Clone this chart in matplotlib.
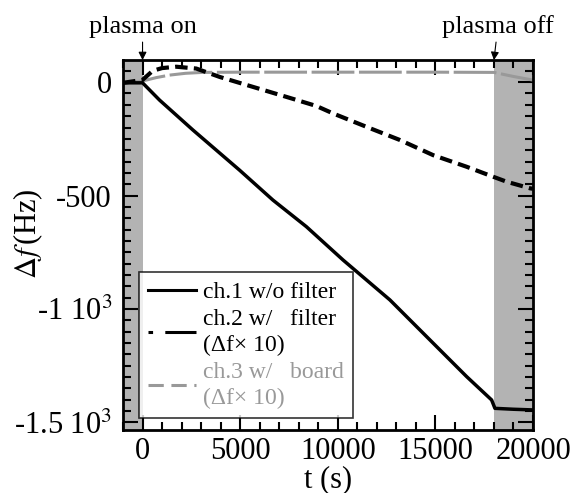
import matplotlib
matplotlib.use("Agg")
import matplotlib.pyplot as plt
from matplotlib.lines import Line2D
from matplotlib.ticker import MultipleLocator, FixedLocator, FixedFormatter

plt.rcParams["font.family"] = ["Liberation Serif", "DejaVu Serif"]
plt.rcParams["mathtext.fontset"] = "stix"

# ch.1 w/o filter
t1 = [-1000, -500, 0, 870, 2580, 4970, 6680, 8390, 10270, 11470, 12670, 14890, 16600, 17880, 18050, 19000, 20000]
f1 = [-3, -3, -3, -79, -211, -388, -520, -637, -784, -872, -960, -1151, -1298, -1401, -1438, -1442, -1445]

# ch.2 w/ filter (x10)
t2 = [-1000, 0, 520, 1000, 1730, 2750, 3950, 5660, 7370, 8900, 9760, 11470, 13180, 14890, 16600, 17960, 18650, 19850, 20000]
f2 = [-3, 10, 50, 62, 68, 60, 23, -21, -65, -105, -138, -197, -255, -322, -373, -417, -439, -468, -470]

# ch.3 w/ board (x10)
t3 = [-1000, 0, 700, 1380, 2200, 3080, 5000, 10000, 15000, 18000, 19000, 20000]
f3 = [-3, 5, 20, 31, 39, 43, 44, 44, 44, 43, 25, 9]

shade_spans = [(-1000, 0), (18000, 20000)]
ytick_vals = [-1500, -1000, -500, 0]
ytick_labels = ["-1.5 10$^3$", "-1 10$^3$", "-500", "0"]

fig = plt.figure(figsize=(5.73, 4.93), dpi=100)
ax = fig.add_axes([0.2147, 0.128, 0.7155, 0.75])

for a, b in shade_spans:
    ax.axvspan(a, b, color="#b3b3b3", lw=0, zorder=0)

ax.plot(t3, f3, color="#999999", lw=2.2, dashes=(14, 1.5), zorder=2)
ax.plot(t2, f2, color="black", lw=3, dashes=(3, 1.5), zorder=3)
ax.plot(t1, f1, color="black", lw=2.5, zorder=4)

ax.set_xlim(-1000, 20000)
ax.set_ylim(-1533, 97)
ax.xaxis.set_major_locator(MultipleLocator(5000))
ax.xaxis.set_minor_locator(MultipleLocator(1000))
ax.yaxis.set_major_locator(FixedLocator(ytick_vals))
ax.yaxis.set_major_formatter(FixedFormatter(ytick_labels))
ax.yaxis.set_minor_locator(MultipleLocator(50))
ax.tick_params(which="both", direction="in", top=True, right=True, width=1.5, labelsize=22)
ax.tick_params(which="major", length=11)
ax.tick_params(which="minor", length=6)
ax.tick_params(axis="x", pad=5)
ax.tick_params(axis="y", pad=8)
for s in ax.spines.values():
    s.set_linewidth(2)

ax.set_xlabel("t (s)", fontsize=22)
ax.set_ylabel(r"$\Delta f\,$(Hz)", fontsize=22)
ax.xaxis.set_label_coords(0.5, -0.095)
ax.yaxis.set_label_coords(-0.19, 0.53)

# arrows for plasma on/off
ax.annotate("plasma on", xy=(0, 97), xytext=(0, 195), textcoords="data",
            ha="center", va="bottom", fontsize=19, annotation_clip=False,
            arrowprops=dict(arrowstyle="-|>", color="black", lw=0.8, mutation_scale=12,
                            shrinkA=1, shrinkB=0))
ax.annotate("plasma off", xy=(18000, 97), xytext=(18200, 195), textcoords="data",
            ha="center", va="bottom", fontsize=19, annotation_clip=False,
            arrowprops=dict(arrowstyle="-|>", color="black", lw=0.8, mutation_scale=12,
                            shrinkA=1, shrinkB=0))

handles = [
    Line2D([], [], color="black", lw=2.2),
    Line2D([], [], color="black", lw=2.2, dashes=(1.5, 4, 12, 0)),
    Line2D([], [], color="#999999", lw=2.2, dashes=(5, 2.5)),
]
labels = ["ch.1 w/o filter", "ch.2 w/   filter\n(Δf× 10)", "ch.3 w/   board\n(Δf× 10)"]
leg = ax.legend(handles, labels, loc="lower left", bbox_to_anchor=(0.01, 0.0), fontsize=17,
                frameon=True, fancybox=False, edgecolor="black", handlelength=2.0,
                handletextpad=0.3, borderpad=0.4, labelspacing=0.25)
leg.get_frame().set_linewidth(1.2)
texts = leg.get_texts()
for tx in texts:
    tx.set_linespacing(1.3)
texts[2].set_color("#999999")

fig.savefig("out.png", dpi=100)
